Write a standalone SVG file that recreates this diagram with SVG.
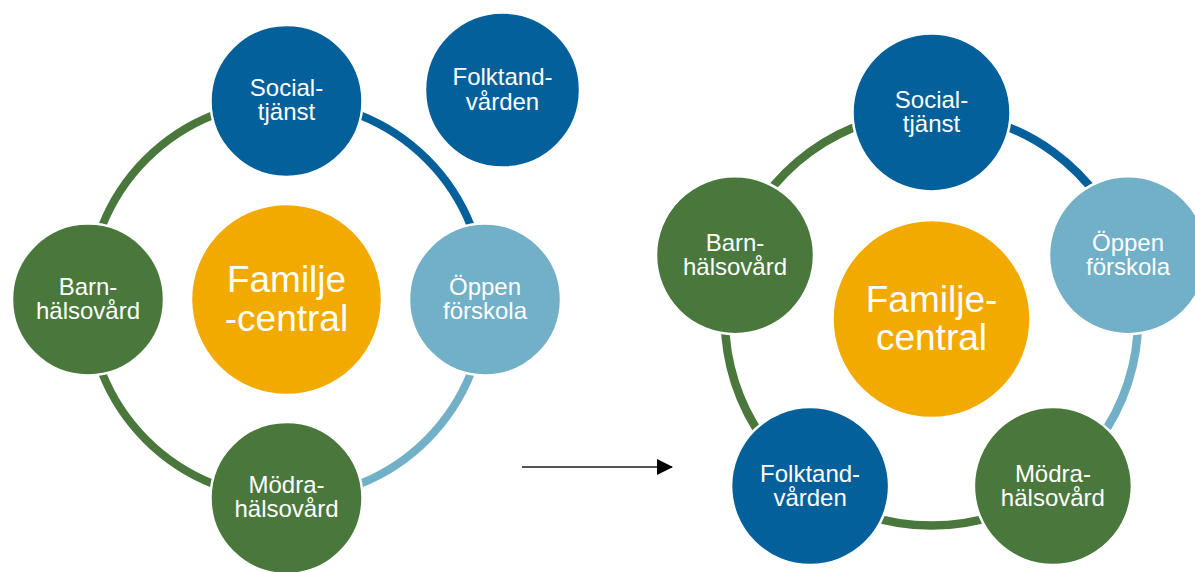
<svg xmlns="http://www.w3.org/2000/svg" width="1195" height="572" viewBox="0 0 1195 572">
<defs>
<style>
.blue{fill:#03609a}
.green{fill:#4a773c}
.light{fill:#72b0c8}
.orange{fill:#f2aa00}
.node circle{stroke:#ffffff;stroke-width:2.5}
.t{font-family:"Liberation Sans",Arial,sans-serif;font-size:24px;fill:#ffffff;text-anchor:middle}
.big{font-family:"Liberation Sans",Arial,sans-serif;font-size:37px;fill:#ffffff;text-anchor:middle}
.arc{fill:none}
.aL{stroke-width:8}
.aR{stroke-width:8.5}
.sb{stroke:#03609a}
.sg{stroke:#4a773c}
.sl{stroke:#72b0c8}
</style>
<marker id="arrow" viewBox="0 0 16 16" refX="15" refY="8" markerWidth="16" markerHeight="16" markerUnits="userSpaceOnUse" orient="auto">
<path d="M0,0 L16,8 L0,16 Z" fill="#000000"/>
</marker>
</defs>
<rect width="1195" height="572" fill="#ffffff"/>
<g id="connectors">
<path class="arc aL sb" d="M286.5 101 A198.5 198.5 0 0 1 485 299.5"/>
<path class="arc aL sl" d="M485 299.5 A198.5 198.5 0 0 1 286.5 498"/>
<path class="arc aL sg" d="M286.5 498 A198.5 198.5 0 0 1 88 299.5"/>
<path class="arc aL sg" d="M88 299.5 A198.5 198.5 0 0 1 286.5 101"/>
<path class="arc aR sb" d="M931.5 112.4 A206.6 206.6 0 0 1 1128 255.2"/>
<path class="arc aR sl" d="M1128 255.2 A206.6 206.6 0 0 1 1052.9 486.1"/>
<path class="arc aR sg" d="M1052.9 486.1 A206.6 206.6 0 0 1 810.1 486.1"/>
<path class="arc aR sg" d="M810.1 486.1 A206.6 206.6 0 0 1 735 255.2"/>
<path class="arc aR sg" d="M735 255.2 A206.6 206.6 0 0 1 931.5 112.4"/>
<line x1="522" y1="467" x2="672" y2="467" stroke="#1a1a1a" stroke-width="1.5" marker-end="url(#arrow)"/>
</g>
<g id="left-socialtjanst" class="node">
<circle class="blue" cx="286.5" cy="101" r="76"/>
<text class="t" x="286.5" y="96">Social-<tspan x="286.5" dy="24">tjänst</tspan></text>
</g>
<g id="left-folktandvarden" class="node">
<circle class="blue" cx="502.5" cy="90" r="77.5"/>
<text class="t" x="502.5" y="85">Folktand-<tspan x="502.5" dy="25">vården</tspan></text>
</g>
<g id="left-barnhalsovard" class="node">
<circle class="green" cx="88" cy="299.5" r="76"/>
<text class="t" x="88" y="294.5">Barn-<tspan x="88" dy="24">hälsovård</tspan></text>
</g>
<g id="left-familjecentral" class="node">
<circle class="orange" cx="286.5" cy="299.5" r="95.5"/>
<text class="big" x="286.5" y="291.5">Familje<tspan x="286.5" dy="39.5">-central</tspan></text>
</g>
<g id="left-oppenforskola" class="node">
<circle class="light" cx="485" cy="299.5" r="76"/>
<text class="t" x="485" y="294.5">Öppen<tspan x="485" dy="24">förskola</tspan></text>
</g>
<g id="left-modrahalsovard" class="node">
<circle class="green" cx="286.5" cy="498" r="76"/>
<text class="t" x="286.5" y="493">Mödra-<tspan x="286.5" dy="24">hälsovård</tspan></text>
</g>
<g id="right-socialtjanst" class="node">
<circle class="blue" cx="931.5" cy="112.4" r="79"/>
<text class="t" x="931.5" y="108">Social-<tspan x="931.5" dy="24">tjänst</tspan></text>
</g>
<g id="right-oppenforskola" class="node">
<circle class="light" cx="1128" cy="255.2" r="79"/>
<text class="t" x="1128" y="251">Öppen<tspan x="1128" dy="24">förskola</tspan></text>
</g>
<g id="right-modrahalsovard" class="node">
<circle class="green" cx="1052.9" cy="486.1" r="79"/>
<text class="t" x="1052.9" y="481.5">Mödra-<tspan x="1052.9" dy="24">hälsovård</tspan></text>
</g>
<g id="right-folktandvarden" class="node">
<circle class="blue" cx="810.1" cy="486.1" r="79"/>
<text class="t" x="810.1" y="481.5">Folktand-<tspan x="810.1" dy="24">vården</tspan></text>
</g>
<g id="right-barnhalsovard" class="node">
<circle class="green" cx="735" cy="255.2" r="79"/>
<text class="t" x="735" y="251">Barn-<tspan x="735" dy="24">hälsovård</tspan></text>
</g>
<g id="right-familjecentral" class="node">
<circle class="orange" cx="931.5" cy="319" r="99"/>
<text class="big" x="931.5" y="311.5">Familje-<tspan x="931.5" dy="38">central</tspan></text>
</g>
</svg>
